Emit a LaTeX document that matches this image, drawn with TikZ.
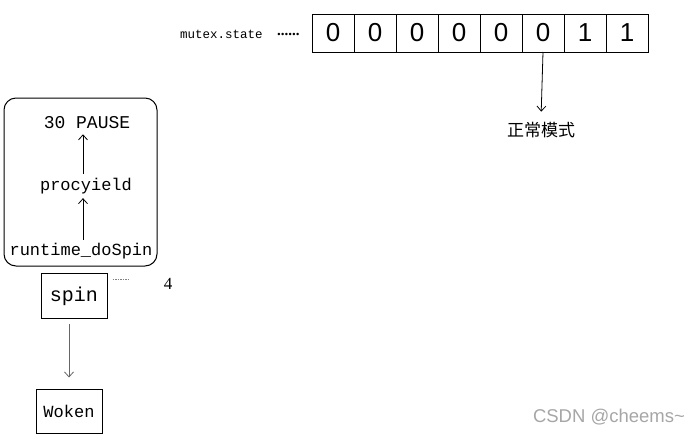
\documentclass[tikz,border=0pt]{standalone}
\usepackage{fontspec}
\setmainfont{Liberation Serif}
\setsansfont{Liberation Sans}
\setmonofont{Liberation Mono}
\newfontfamily\cjkfont{Noto Sans CJK SC}
\usetikzlibrary{arrows.meta,positioning}

\begin{document}
\begin{tikzpicture}[
  x=1pt, y=-1pt,
  bitcell/.style={draw, line width=0.8pt, minimum width=42pt, minimum height=38pt, inner sep=0pt, outer sep=0pt, font=\sffamily\fontsize{26}{26}\selectfont},
  callbox/.style={draw, line width=1pt, minimum width=66pt, minimum height=45pt, inner sep=0pt, font=\ttfamily\fontsize{20}{20}\selectfont},
  calltext/.style={inner sep=1pt, font=\ttfamily\fontsize{17}{17}\selectfont},
  arr/.style={-{Straight Barb[length=5pt, width=9pt]}, line width=0.8pt}
]
\useasboundingbox (0,0) rectangle (700,437);

% mutex.state bits
\node[anchor=west, inner sep=0pt, font=\ttfamily\fontsize{12.5}{12.5}\selectfont] (label) at (180,34) {mutex.state};
\node[anchor=west, inner sep=0pt, font=\rmfamily\bfseries\fontsize{15}{15}\selectfont] (dots) at (277,34) {......};
\node[bitcell, anchor=north west] (b1) at (312,14) {0};
\node[bitcell, right=0pt of b1] (b2) {0};
\node[bitcell, right=0pt of b2] (b3) {0};
\node[bitcell, right=0pt of b3] (b4) {0};
\node[bitcell, right=0pt of b4] (b5) {0};
\node[bitcell, right=0pt of b5] (b6) {0};
\node[bitcell, right=0pt of b6] (b7) {1};
\node[bitcell, right=0pt of b7] (b8) {1};

% mode
\node[font=\cjkfont\fontsize{17}{17}\selectfont] (mode) at (541,130) {正常模式};
\draw[arr, shorten >=7pt] (b6.south) -- (mode.north);

% spin call chain
\node[draw, line width=1pt, rounded corners=12pt, minimum width=153pt, minimum height=168pt] (chain) at (80.5,182) {};
\node[calltext, font=\ttfamily\fontsize{18}{18}\selectfont] (pause) at (87,123) {30 PAUSE};
\node[calltext] (yield) at (86,186) {procyield};
\node[calltext] (dospin) at (81,251) {runtime\_doSpin};
\draw[arr, shorten <=2pt, shorten >=3pt] (dospin.north -| 83,0) -- (yield.south -| 83,0);
\draw[arr, shorten <=3pt, shorten >=4pt] (yield.north -| 83,0) -- (pause.south -| 83,0);

% spin and woken
\node[callbox] (spin) at (74,296) {spin};
\draw[gray, line width=0.6pt, dash pattern=on 1.5pt off 1pt] ([xshift=5pt, yshift=-6pt]spin.north east) -- ++(16,0);
\node[font=\rmfamily\fontsize{17}{17}\selectfont] (count) at (168,284) {4};
\node[callbox, minimum height=44pt, font=\ttfamily\fontsize{17}{17}\selectfont] (woken) at (69,411) {Woken};
\draw[arr, gray!80!black, shorten <=5pt, shorten >=11pt] (woken.north |- spin.south) -- (woken.north);

% watermark
\node[font=\sffamily\fontsize{18.5}{18.5}\selectfont, text=gray!70] (mark) at (609,417) {CSDN @cheems\textasciitilde};
\end{tikzpicture}
\end{document}
